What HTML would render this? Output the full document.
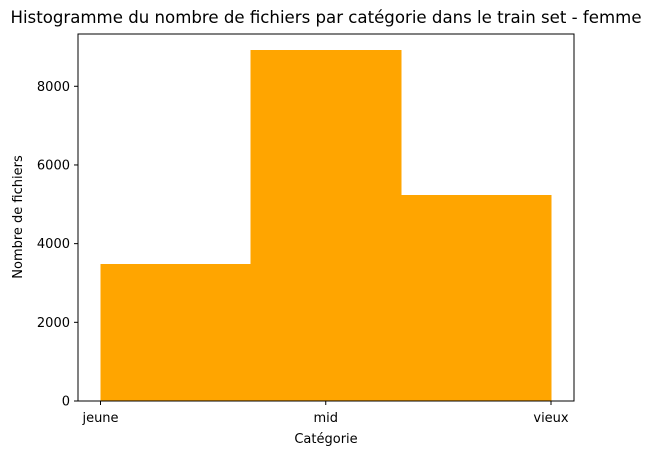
<!DOCTYPE html>
<html><head><meta charset="utf-8"><style>
body{margin:0;background:#fff;}
svg text{font-family:"DejaVu Sans","Liberation Sans",sans-serif;fill:#000;}
</style></head><body>
<svg width="651" height="456" viewBox="0 0 651 456" id="chart">
<text x="326" y="23" font-size="16.6" text-anchor="middle">Histogramme du nombre de fichiers par catégorie dans le train set - femme</text>
<g id="bars" shape-rendering="crispEdges"></g>
<g id="yticks"></g>
<g id="xticks"></g>
<rect x="78" y="34" width="496" height="367" fill="none" stroke="#000" stroke-width="1"/>
<text x="326" y="443" font-size="13" text-anchor="middle">Catégorie</text>
<text transform="translate(22,217) rotate(-90)" font-size="13" text-anchor="middle">Nombre de fichiers</text>
</svg>
<script>
const categories = ["jeune","mid","vieux"];
const counts = [3482, 8922, 5236];
const yTicks = [0, 2000, 4000, 6000, 8000];
const NS = "http://www.w3.org/2000/svg";
const X0 = 100.5, X2 = 551, Y0 = 401, YS = 0.03934;
function xs(v){ return X0 + (X2 - X0) * v / 2; }
function ys(v){ return Y0 - v * YS; }
const bars = document.getElementById('bars');
const nb = counts.length;
counts.forEach((c, i) => {
  const a = xs(i * 2 / nb), b = xs((i + 1) * 2 / nb);
  const r = document.createElementNS(NS, 'rect');
  r.setAttribute('x', a); r.setAttribute('width', b - a + 0.5);
  r.setAttribute('y', ys(c)); r.setAttribute('height', Y0 - ys(c));
  r.setAttribute('fill', '#ffa500');
  
  
  bars.appendChild(r);
});
const yt = document.getElementById('yticks');
yTicks.forEach(v => {
  const y = ys(v);
  const l = document.createElementNS(NS, 'line');
  l.setAttribute('x1', 74); l.setAttribute('x2', 78); l.setAttribute('y1', y); l.setAttribute('y2', y);
  l.setAttribute('stroke', '#000');
  
  
  yt.appendChild(l);
  const t = document.createElementNS(NS, 'text');
  t.setAttribute('x', 70); t.setAttribute('y', y + 4.5); t.setAttribute('font-size', '13'); t.setAttribute('text-anchor', 'end');
  t.textContent = v;
  
  
  yt.appendChild(t);
});
const xt = document.getElementById('xticks');
categories.forEach((c, i) => {
  const x = xs(i);
  const l = document.createElementNS(NS, 'line');
  l.setAttribute('x1', x); l.setAttribute('x2', x); l.setAttribute('y1', 401); l.setAttribute('y2', 405);
  l.setAttribute('stroke', '#000');
  
  
  xt.appendChild(l);
  const t = document.createElementNS(NS, 'text');
  t.setAttribute('x', x); t.setAttribute('y', 422); t.setAttribute('font-size', '13'); t.setAttribute('text-anchor', 'middle');
  t.textContent = c;
  
  
  xt.appendChild(t);
});
</script>
</body></html>
